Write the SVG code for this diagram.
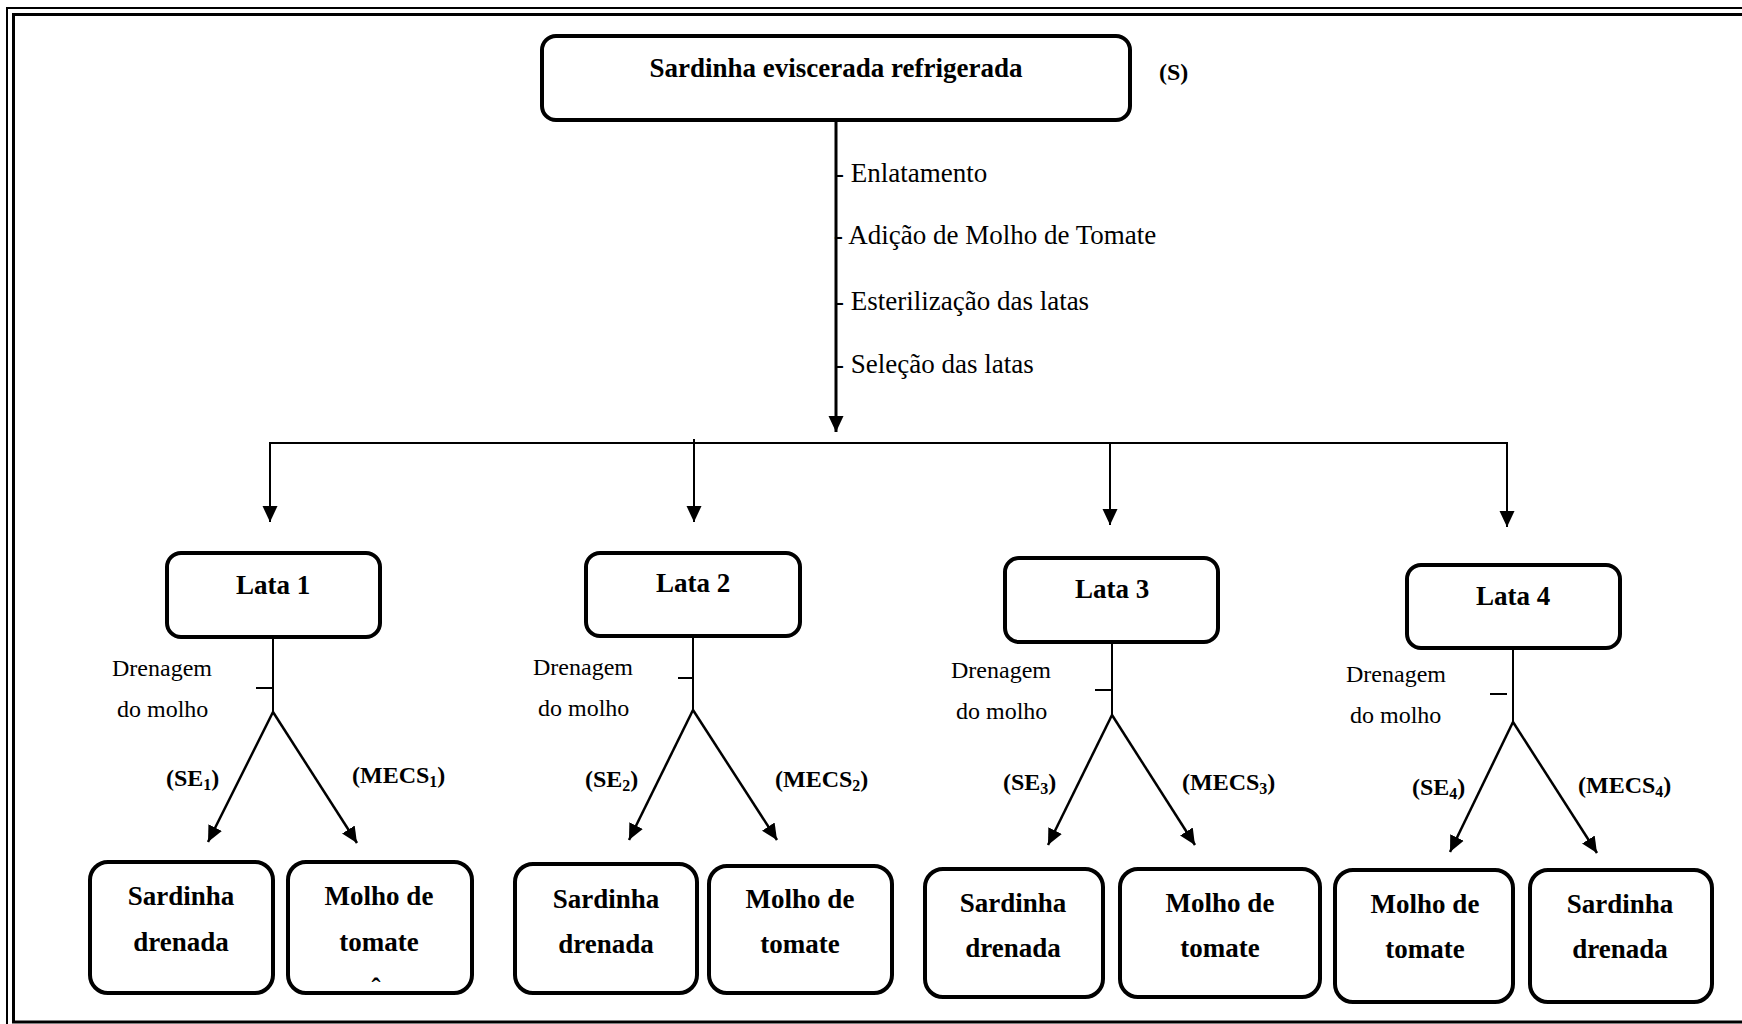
<svg xmlns="http://www.w3.org/2000/svg" width="1742" height="1024" viewBox="0 0 1742 1024">
<defs>
<style>
.box{fill:#fff;stroke:#000;stroke-width:4}
.b{font-family:"Liberation Serif","Times New Roman",serif;font-weight:bold;font-size:27px;fill:#000;text-anchor:middle}
.lbl{font-family:"Liberation Serif","Times New Roman",serif;font-weight:bold;font-size:24px;fill:#000}
.r{font-family:"Liberation Serif","Times New Roman",serif;font-size:27px;fill:#000}
.d{font-family:"Liberation Serif","Times New Roman",serif;font-size:24px;fill:#000}
.ln{stroke:#000;stroke-width:2;fill:none}
.arr{stroke:#000;stroke-width:2;fill:none;marker-end:url(#ah)}
.sub{font-size:16px}
</style>
<marker id="ah" markerUnits="userSpaceOnUse" markerWidth="17" markerHeight="16" refX="16" refY="7.5" orient="auto" viewBox="0 0 17 15">
<path d="M0,0 L16,7.5 L0,15 z" fill="#000"/>
</marker>
</defs>
<rect width="1742" height="1024" fill="#fff"/>
<g id="frame">
<rect x="7" y="8" width="1800" height="1100" fill="none" stroke="#000" stroke-width="2"/>
<rect x="13.5" y="14.5" width="1800" height="1007.5" fill="none" stroke="#000" stroke-width="3"/>
</g>
<g id="connectors">
<line x1="836" y1="120" x2="836" y2="432" class="arr" style="stroke-width:3"/>
<line x1="269" y1="443" x2="1508" y2="443" class="ln"/>
<line x1="270" y1="443" x2="270" y2="522" class="arr"/>
<line x1="694" y1="439" x2="694" y2="522" class="arr"/>
<line x1="1110" y1="443" x2="1110" y2="525" class="arr"/>
<line x1="1507" y1="443" x2="1507" y2="527" class="arr"/>
<line x1="273" y1="637" x2="273" y2="712" class="ln"/>
<line x1="256" y1="688" x2="273" y2="688" class="ln"/>
<line x1="273" y1="712" x2="208" y2="842" class="arr" style="stroke-width:2.5"/>
<line x1="273" y1="712" x2="357" y2="843" class="arr" style="stroke-width:2.5"/>
<line x1="693" y1="636" x2="693" y2="710" class="ln"/>
<line x1="678" y1="678" x2="693" y2="678" class="ln"/>
<line x1="693" y1="710" x2="629" y2="840" class="arr" style="stroke-width:2.5"/>
<line x1="693" y1="710" x2="777" y2="840" class="arr" style="stroke-width:2.5"/>
<line x1="1112" y1="642" x2="1112" y2="715" class="ln"/>
<line x1="1095" y1="690" x2="1112" y2="690" class="ln"/>
<line x1="1112" y1="715" x2="1048" y2="845" class="arr" style="stroke-width:2.5"/>
<line x1="1112" y1="715" x2="1195" y2="845" class="arr" style="stroke-width:2.5"/>
<line x1="1513" y1="648" x2="1513" y2="722" class="ln"/>
<line x1="1490" y1="694" x2="1507" y2="694" class="ln"/>
<line x1="1513" y1="722" x2="1450" y2="852" class="arr" style="stroke-width:2.5"/>
<line x1="1513" y1="722" x2="1597" y2="853" class="arr" style="stroke-width:2.5"/>
</g>
<g id="steps">
<text class="r" x="835" y="182">- Enlatamento</text>
<text class="r" x="834" y="244">- Adição de Molho de Tomate</text>
<text class="r" x="835" y="310">- Esterilização das latas</text>
<text class="r" x="835" y="373">- Seleção das latas</text>
</g>
<g id="node-S">
<rect class="box" x="542" y="36" width="588" height="84" rx="14"/>
<text class="b" x="836" y="77">Sardinha eviscerada refrigerada</text>
</g>
<text class="lbl" x="1159" y="80">(S)</text>
<g id="lata1">
<rect class="box" x="167" y="553" width="213" height="84" rx="14"/>
<text class="b" x="273" y="594">Lata 1</text>
</g>
<g id="lata2">
<rect class="box" x="586" y="553" width="214" height="83" rx="14"/>
<text class="b" x="693" y="592">Lata 2</text>
</g>
<g id="lata3">
<rect class="box" x="1005" y="558" width="213" height="84" rx="14"/>
<text class="b" x="1112" y="598">Lata 3</text>
</g>
<g id="lata4">
<rect class="box" x="1407" y="565" width="213" height="83" rx="14"/>
<text class="b" x="1513" y="605">Lata 4</text>
</g>
<g id="labels">
<text class="d" x="112" y="676">Drenagem</text>
<text class="d" x="117" y="717">do molho</text>
<text class="lbl" x="166" y="786">(SE<tspan class="sub" dy="4">1</tspan><tspan dy="-4">)</tspan></text>
<text class="lbl" x="352" y="783">(MECS<tspan class="sub" dy="4">1</tspan><tspan dy="-4">)</tspan></text>
<text class="d" x="533" y="675">Drenagem</text>
<text class="d" x="538" y="716">do molho</text>
<text class="lbl" x="585" y="787">(SE<tspan class="sub" dy="4">2</tspan><tspan dy="-4">)</tspan></text>
<text class="lbl" x="775" y="787">(MECS<tspan class="sub" dy="4">2</tspan><tspan dy="-4">)</tspan></text>
<text class="d" x="951" y="678">Drenagem</text>
<text class="d" x="956" y="719">do molho</text>
<text class="lbl" x="1003" y="790">(SE<tspan class="sub" dy="4">3</tspan><tspan dy="-4">)</tspan></text>
<text class="lbl" x="1182" y="790">(MECS<tspan class="sub" dy="4">3</tspan><tspan dy="-4">)</tspan></text>
<text class="d" x="1346" y="682">Drenagem</text>
<text class="d" x="1350" y="723">do molho</text>
<text class="lbl" x="1412" y="795">(SE<tspan class="sub" dy="4">4</tspan><tspan dy="-4">)</tspan></text>
<text class="lbl" x="1578" y="793">(MECS<tspan class="sub" dy="4">4</tspan><tspan dy="-4">)</tspan></text>
</g>
<g id="sd1">
<rect class="box" x="90" y="862" width="183" height="131" rx="18"/>
<text class="b" x="181" y="905">Sardinha</text>
<text class="b" x="181" y="951">drenada</text>
</g>
<g id="mt1">
<rect class="box" x="288" y="862" width="184" height="131" rx="18"/>
<text class="b" x="379" y="905">Molho de</text>
<text class="b" x="379" y="951">tomate</text>
<text class="b" x="376" y="997">ˆ</text>
</g>
<g id="sd2">
<rect class="box" x="515" y="864" width="182" height="129" rx="18"/>
<text class="b" x="606" y="908">Sardinha</text>
<text class="b" x="606" y="953">drenada</text>
</g>
<g id="mt2">
<rect class="box" x="709" y="866" width="183" height="127" rx="18"/>
<text class="b" x="800" y="908">Molho de</text>
<text class="b" x="800" y="953">tomate</text>
</g>
<g id="sd3">
<rect class="box" x="925" y="869" width="178" height="128" rx="18"/>
<text class="b" x="1013" y="912">Sardinha</text>
<text class="b" x="1013" y="957">drenada</text>
</g>
<g id="mt3">
<rect class="box" x="1120" y="869" width="200" height="128" rx="18"/>
<text class="b" x="1220" y="912">Molho de</text>
<text class="b" x="1220" y="957">tomate</text>
</g>
<g id="mt4">
<rect class="box" x="1335" y="870" width="178" height="132" rx="18"/>
<text class="b" x="1425" y="913">Molho de</text>
<text class="b" x="1425" y="958">tomate</text>
</g>
<g id="sd4">
<rect class="box" x="1530" y="870" width="182" height="132" rx="18"/>
<text class="b" x="1620" y="913">Sardinha</text>
<text class="b" x="1620" y="958">drenada</text>
</g>
</svg>
